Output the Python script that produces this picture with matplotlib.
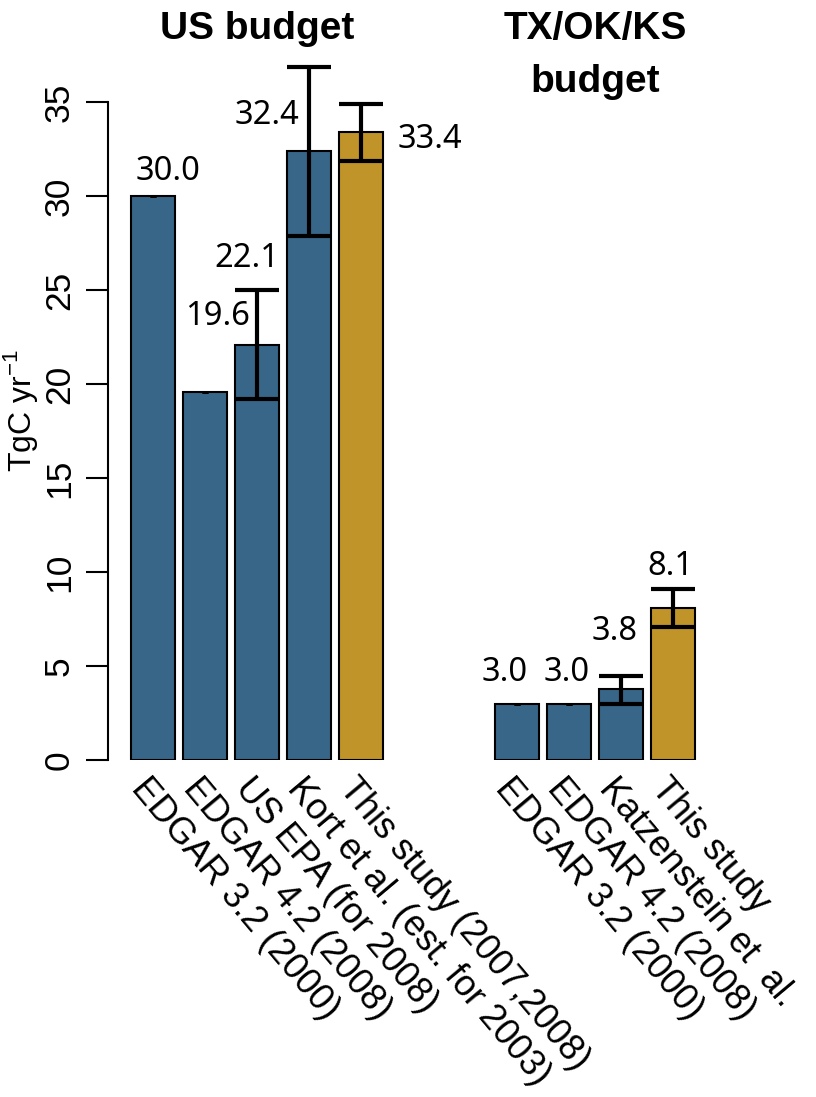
import numpy as np
import matplotlib
matplotlib.use("Agg")
import matplotlib.pyplot as plt

plt.rcParams["font.family"] = ["Liberation Sans", "DejaVu Sans"]
plt.rcParams["mathtext.fontset"] = "custom"
plt.rcParams["mathtext.rm"] = "Liberation Sans"

# ── data
us_labels = ["EDGAR 3.2 (2000)", "EDGAR 4.2 (2008)", "US EPA (for 2008)",
             "Kort et al. (est. for 2003)", "This study (2007,2008)"]
us_values = [30.0, 19.6, 22.1, 32.4, 33.4]
us_lower = [30.0, 19.6, 19.2, 27.9, 31.9]
us_upper = [30.0, 19.6, 25.0, 36.9, 34.9]

tx_labels = ["EDGAR 3.2 (2000)", "EDGAR 4.2 (2008)", "Katzenstein et  al.", "This study"]
tx_values = [3.0, 3.0, 3.8, 8.1]
tx_lower = [3.0, 3.0, 3.0, 7.1]
tx_upper = [3.0, 3.0, 4.5, 9.1]

yticks = [0, 5, 10, 15, 20, 25, 30, 35]

# value-label placement (offset from bar centre, height)
us_lab_dx = [0.29, 0.23, -0.19, -0.81, 1.33]
us_lab_y = [31.3, 23.6, 26.7, 34.3, 33.0]
tx_lab_dx = [-0.24, -0.05, -0.12, -0.06]
tx_lab_y = [4.65, 4.65, 6.84, 10.33]

BLUE = "#386688"
GOLD = "#C09428"

pos_us = np.arange(len(us_values))
pos_tx = np.arange(len(tx_values)) + 7
width = 0.85

fig = plt.figure(figsize=(8.16, 10.97), dpi=100)
ax = fig.add_axes([0.1324, 0.3069, 0.75, 0.6513])

def draw_group(pos, vals, lo, hi, labels, dx, ly):
    colors = [BLUE] * (len(vals) - 1) + [GOLD]
    ax.bar(pos, vals, width=width, color=colors, edgecolor="black", linewidth=1.5, zorder=2)
    for p, v, l, h, d, y in zip(pos, vals, lo, hi, dx, ly):
        has_err = h > l
        ax.errorbar(p, v, yerr=[[v - l], [h - v]], fmt="none", ecolor="black",
                    elinewidth=3, capsize=16 if has_err else 2.2,
                    capthick=3 if has_err else 2, zorder=3, clip_on=False)
        ax.text(p + d, y, f"{v:.1f}", ha="center", va="center", fontsize=23.5,
                family=["Noto Sans", "DejaVu Sans"])
    for p, t in zip(pos, labels):
        ax.text(p - 0.05, -0.6, t, rotation=-50, rotation_mode="anchor",
                ha="left", va="top", fontsize=26)

draw_group(pos_us, us_values, us_lower, us_upper, us_labels, us_lab_dx, us_lab_y)
draw_group(pos_tx, tx_values, tx_lower, tx_upper, tx_labels, tx_lab_dx, tx_lab_y)

ax.text(pos_us.mean(), 38.37, "US budget", ha="center", va="baseline",
        fontsize=28, fontweight="bold")
ax.text(pos_tx.mean(), 38.37, "TX/OK/KS", ha="center", va="baseline",
        fontsize=28, fontweight="bold")
ax.text(pos_tx.mean(), 35.55, "budget", ha="center", va="baseline",
        fontsize=28, fontweight="bold")

ax.set_xlim(-0.865, 10.9)
ax.set_ylim(0, 38)
for s in ["top", "right", "bottom"]:
    ax.spines[s].set_visible(False)
ax.spines["left"].set_bounds(0, 35)
ax.spines["left"].set_linewidth(1.5)
ax.set_xticks([])
ax.set_yticks(yticks)
ax.set_yticklabels([str(t) for t in yticks], rotation=90, va="center", fontsize=25.5)
ax.tick_params(axis="y", length=16, width=1.5, pad=7)

fig.text(20 / 816, 1 - 411 / 1097, "TgC yr$^{-1}$", rotation=90,
         ha="center", va="center", fontsize=23)

fig.savefig("out.png", dpi=100)
